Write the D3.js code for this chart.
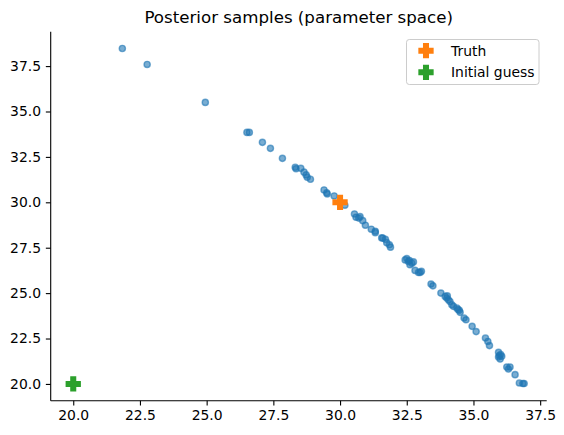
<!DOCTYPE html>
<html>
<head>
<meta charset="utf-8">
<script src="https://cdn.jsdelivr.net/npm/d3@7"></script>
<style>
  body { margin: 0; background: #fff; }
  svg { display: block; font-family: "DejaVu Sans", sans-serif; }
</style>
</head>
<body>
<svg id="chart" width="564" height="435"></svg>
<script>
const title = "Posterior samples (parameter space)";
const sampleX = [21.84,22.77,24.95,26.51,26.60,27.09,27.39,27.84,28.32,28.35,28.53,28.65,28.73,28.77,28.89,
  29.40,29.50,29.52,29.78,30.18,30.54,30.60,30.75,30.70,30.85,30.95,31.17,31.32,31.32,31.56,31.60,31.70,31.75,31.85,31.89,
  32.44,32.50,32.56,32.69,32.62,32.60,32.75,32.81,32.94,33.00,33.05,33.41,33.48,33.78,33.94,34.00,34.06,34.12,34.02,
  34.19,34.25,34.38,34.47,34.50,34.42,34.65,34.72,34.95,35.10,35.45,35.54,35.60,35.94,35.97,36.06,36.00,35.94,36.02,
  36.25,36.37,36.31,36.56,36.72,36.85,36.90];
const sampleY = [38.47,37.59,35.50,33.85,33.85,33.30,32.97,32.42,31.93,31.85,31.87,31.66,31.51,31.38,31.27,
  30.68,30.53,30.46,30.35,29.84,29.36,29.18,29.21,29.13,28.99,28.74,28.52,28.41,28.33,28.04,28.03,27.96,27.78,27.66,27.53,
  26.83,26.90,26.74,26.65,26.56,26.80,26.72,26.25,26.14,26.14,26.20,25.50,25.40,25.00,24.82,24.73,24.63,24.54,24.85,
  24.36,24.27,24.18,24.05,23.94,24.10,23.63,23.53,23.17,22.88,22.53,22.34,22.11,21.74,21.56,21.52,21.37,21.48,21.62,
  20.93,20.93,20.82,20.51,20.05,20.02,20.02];
const markerNames = ["Truth", "Initial guess"];
const markerX = [30.0, 20.0];
const markerY = [30.0, 20.0];
const markerColors = ["#ff7f0e", "#2ca02c"];
const xTicks = [20.0,22.5,25.0,27.5,30.0,32.5,35.0,37.5];
const yTicks = [20.0,22.5,25.0,27.5,30.0,32.5,35.0,37.5];

const svg = d3.select("#chart");
const L = 50.7, R = 546.7, T = 31.7, B = 400.7;

const allX = sampleX.concat(markerX), allY = sampleY.concat(markerY);
function padded(arr) {
  const [a, b] = d3.extent(arr); const m = (b - a) * 0.05; return [a - m, b + m];
}
const x = d3.scaleLinear().domain(padded(allX)).range([L, R]);
const y = d3.scaleLinear().domain(padded(allY)).range([B, T]);

// axes
const fmt = d3.format(".1f");
const xAxis = svg.append("g").attr("transform", `translate(0,${B})`)
  .call(d3.axisBottom(x).tickValues(xTicks).tickFormat(fmt).tickSizeOuter(0).tickSize(4.86).tickPadding(4.86));
const yAxis = svg.append("g").attr("transform", `translate(${L},0)`)
  .call(d3.axisLeft(y).tickValues(yTicks).tickFormat(fmt).tickSizeOuter(0).tickSize(4.86).tickPadding(4.86));
[xAxis, yAxis].forEach(g => {
  g.selectAll("path.domain").attr("stroke", "#000").attr("stroke-width", 1.1);
  g.selectAll(".tick line").attr("stroke", "#000").attr("stroke-width", 1.1);
  g.selectAll(".tick text").attr("fill", "#000").style("font-size", "13.9px").style("font-family", "DejaVu Sans");
});
// extend domain lines to full axes
xAxis.select("path.domain").attr("d", `M${L},0H${R}`);
yAxis.select("path.domain").attr("d", `M0,${B}V${T}`);

// samples
const pts = sampleX.map((v, i) => ({x: v, y: sampleY[i]}));
svg.append("g").selectAll("circle").data(pts).join("circle")
  .attr("cx", d => x(d.x)).attr("cy", d => y(d.y)).attr("r", 3.1)
  .attr("fill", "#1f77b4").attr("fill-opacity", 0.6)
  .attr("stroke", "#1f77b4").attr("stroke-opacity", 0.6).attr("stroke-width", 1.39);

// plus-filled marker path
const s = 13.9 / 6;
const plusPts = [[-1,-3],[1,-3],[1,-1],[3,-1],[3,1],[1,1],[1,3],[-1,3],[-1,1],[-3,1],[-3,-1],[-1,-1]];
const plusPath = "M" + plusPts.map(p => [p[0]*s/2*1, p[1]*s/2*1].join(",")).join("L") + "Z";
// note: vertices/6 * markersize -> p*13.9/6/ ... extents +-0.5*13.9
const plusD = "M" + plusPts.map(p => [(p[0]/6*13.9).toFixed(2), (p[1]/6*13.9).toFixed(2)].join(",")).join("L") + "Z";

svg.append("g").selectAll("path").data(markerNames).join("path")
  .attr("d", plusD)
  .attr("transform", (d, i) => `translate(${x(markerX[i])},${y(markerY[i])})`)
  .attr("fill", (d, i) => markerColors[i])
  .attr("stroke", (d, i) => markerColors[i]).attr("stroke-width", 1.39).attr("stroke-linejoin", "miter");

// title
svg.append("text").attr("x", (L + R) / 2).attr("y", T - 8.6)
  .attr("text-anchor", "middle").style("font-size", "16.67px").attr("fill", "#000").text(title);

// legend
const lg = svg.append("g");
lg.append("rect").attr("x", 406.5).attr("y", 39.5).attr("width", 132.5).attr("height", 45)
  .attr("rx", 2.8).attr("fill", "#fff").attr("fill-opacity", 0.8)
  .attr("stroke", "#cccccc").attr("stroke-width", 1);
markerNames.forEach((name, i) => {
  const cy = 50.7 + i * 21.6;
  lg.append("path").attr("d", plusD).attr("transform", `translate(426,${cy})`)
    .attr("fill", markerColors[i]).attr("stroke", markerColors[i]).attr("stroke-width", 1.39);
  lg.append("text").attr("x", 451).attr("y", cy + 5).style("font-size", "13.9px")
    .attr("fill", "#000").text(name);
});
</script>
</body>
</html>
